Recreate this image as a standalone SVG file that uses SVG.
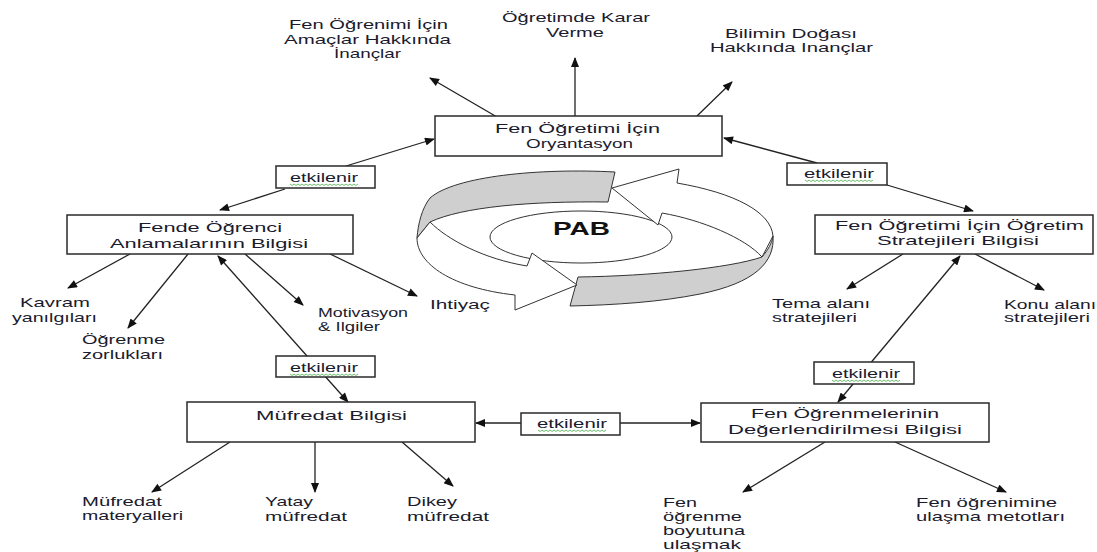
<svg xmlns="http://www.w3.org/2000/svg" width="1097" height="552" viewBox="0 0 1097 552">
<defs>
<style>
.t{font-family:"Liberation Sans",Arial,sans-serif;font-size:13px;fill:#1b1b2e}
.pab{font-family:"Liberation Sans",Arial,sans-serif;font-size:18px;font-weight:bold;fill:#111}
.b{fill:#fff;stroke:#2a2a2a;stroke-width:1.5}
.c{stroke:#222;stroke-width:1.3;fill:none;marker-end:url(#ah)}
.c2{marker-start:url(#ah)}
.sq{fill:none;stroke:#5cb85c;stroke-width:0.9}
.ring{stroke:#333;stroke-width:1}
.w{fill:#fff}
.g{fill:#cfcfcf}
</style>
<marker id="ah" viewBox="0 0 10 8" refX="9" refY="4" markerWidth="11" markerHeight="8" markerUnits="userSpaceOnUse" orient="auto-start-reverse">
<path d="M0,0 L10,4 L0,8 z" fill="#111"/>
</marker>
<path id="sq" d="M0,0l2,1.5l2,-1.5l2,1.5l2,-1.5l2,1.5l2,-1.5l2,1.5l2,-1.5l2,1.5l2,-1.5l2,1.5l2,-1.5l2,1.5l2,-1.5l2,1.5l2,-1.5l2,1.5l2,-1.5l2,1.5l2,-1.5l2,1.5l2,-1.5l2,1.5l2,-1.5l2,1.5l2,-1.5l2,1.5l2,-1.5l2,1.5l2,-1.5l2,1.5l2,-1.5l2,1.5l2,-1.5"/>
</defs>
<rect width="1097" height="552" fill="#fff"/>

<g id="connectors">
<line x1="497" y1="117" x2="430" y2="78" class="c"/>
<line x1="575" y1="116" x2="575" y2="58" class="c"/>
<line x1="697" y1="116" x2="732" y2="82" class="c"/>
<line x1="346" y1="166" x2="434" y2="139" class="c"/>
<line x1="285" y1="189" x2="220" y2="210" class="c"/>
<line x1="817" y1="163" x2="724" y2="138" class="c"/>
<line x1="887" y1="185" x2="973" y2="211" class="c"/>
<line x1="130" y1="254" x2="68" y2="288" class="c"/>
<line x1="188" y1="254" x2="128" y2="328" class="c"/>
<line x1="245" y1="254" x2="303" y2="305" class="c"/>
<line x1="330" y1="254" x2="417" y2="296" class="c"/>
<line x1="218" y1="256" x2="348" y2="402" class="c c2"/>
<line x1="230" y1="442" x2="152" y2="492" class="c"/>
<line x1="315" y1="442" x2="315" y2="492" class="c"/>
<line x1="402" y1="442" x2="453" y2="486" class="c"/>
<line x1="476" y1="423" x2="700" y2="423" class="c c2"/>
<line x1="960" y1="256" x2="838" y2="402" class="c c2"/>
<line x1="903" y1="254" x2="847" y2="289" class="c"/>
<line x1="975" y1="254" x2="1044" y2="290" class="c"/>
<line x1="825" y1="442" x2="743" y2="492" class="c"/>
<line x1="895" y1="442" x2="1006" y2="492" class="c"/>
</g>

<g id="pab-cycle">
<ellipse cx="581" cy="237" rx="91" ry="26" class="w ring"/>
<path class="g ring" d="M615,172 C540,168 455,176 430,198 C422,208 418,224 417,238 L430,222 C462,207 530,201 608,202 Z"/>
<path class="w ring" d="M773,236 C771,212 735,193 677,183 L679,169 L612,188 L658,225 L662,213 C702,220 745,238 762,257 Z"/>
<path class="g ring" d="M578,277 C650,276 730,268 762,257 C768,250 772,243 773,236 C775,262 755,283 700,294 C660,302 615,305 570,306 Z"/>
<path class="w ring" d="M417,238 C417,264 452,288 515,295 L515,310 L577,285 L532,253 L527,266 C484,259 448,240 430,222 Z"/>
<text class="pab" x="553" y="235" textLength="57" lengthAdjust="spacingAndGlyphs">PAB</text>
</g>

<g id="n-orient">
<rect class="b" x="435" y="116" width="287" height="40"/>
<text class="t" x="495" y="133" textLength="165" lengthAdjust="spacingAndGlyphs">Fen Öğretimi İçin</text>
<text class="t" x="526" y="148" textLength="107" lengthAdjust="spacingAndGlyphs">Oryantasyon</text>
</g>
<g id="l-amac">
<text class="t" x="289" y="29" textLength="159" lengthAdjust="spacingAndGlyphs">Fen Öğrenimi İçin</text>
<text class="t" x="284" y="44" textLength="167" lengthAdjust="spacingAndGlyphs">Amaçlar Hakkında</text>
<text class="t" x="334" y="58" textLength="67" lengthAdjust="spacingAndGlyphs">İnançlar</text>
</g>
<g id="l-karar">
<text class="t" x="502" y="22" textLength="148" lengthAdjust="spacingAndGlyphs">Öğretimde Karar</text>
<text class="t" x="546" y="37" textLength="58" lengthAdjust="spacingAndGlyphs">Verme</text>
</g>
<g id="l-doga">
<text class="t" x="725" y="38" textLength="132" lengthAdjust="spacingAndGlyphs">Bilimin Doğası</text>
<text class="t" x="710" y="52" textLength="163" lengthAdjust="spacingAndGlyphs">Hakkında Inançlar</text>
</g>

<g id="e-1">
<rect class="b" x="276" y="166" width="99" height="22"/>
<text class="t" x="290" y="182" textLength="68" lengthAdjust="spacingAndGlyphs">etkilenir</text>
<use href="#sq" x="290" y="184" class="sq"/>
</g>
<g id="e-2">
<rect class="b" x="787" y="163" width="100" height="22"/>
<text class="t" x="804" y="178" textLength="70" lengthAdjust="spacingAndGlyphs">etkilenir</text>
<use href="#sq" x="805" y="180" class="sq"/>
</g>
<g id="e-3">
<rect class="b" x="276" y="356" width="99" height="21"/>
<text class="t" x="290" y="372" textLength="68" lengthAdjust="spacingAndGlyphs">etkilenir</text>
<use href="#sq" x="290" y="374" class="sq"/>
</g>
<g id="e-4">
<rect class="b" x="521" y="413" width="99" height="22"/>
<text class="t" x="537" y="428" textLength="70" lengthAdjust="spacingAndGlyphs">etkilenir</text>
<use href="#sq" x="538" y="430" class="sq"/>
</g>
<g id="e-5">
<rect class="b" x="814" y="362" width="100" height="22"/>
<text class="t" x="832" y="378" textLength="68" lengthAdjust="spacingAndGlyphs">etkilenir</text>
<use href="#sq" x="832" y="380" class="sq"/>
</g>

<g id="n-fende">
<rect class="b" x="67" y="215" width="286" height="39"/>
<text class="t" x="138" y="232" textLength="144" lengthAdjust="spacingAndGlyphs">Fende Öğrenci</text>
<text class="t" x="110" y="248" textLength="198" lengthAdjust="spacingAndGlyphs">Anlamalarının  Bilgisi</text>
</g>
<g id="l-kavram">
<text class="t" x="20" y="307" textLength="70" lengthAdjust="spacingAndGlyphs">Kavram</text>
<text class="t" x="12" y="322" textLength="85" lengthAdjust="spacingAndGlyphs">yanılgıları</text>
</g>
<g id="l-zorluk">
<text class="t" x="82" y="344" textLength="83" lengthAdjust="spacingAndGlyphs">Öğrenme</text>
<text class="t" x="82" y="359" textLength="81" lengthAdjust="spacingAndGlyphs">zorlukları</text>
</g>
<g id="l-motiv">
<text class="t" x="318" y="317" textLength="90" lengthAdjust="spacingAndGlyphs">Motivasyon</text>
<text class="t" x="318" y="331" textLength="62" lengthAdjust="spacingAndGlyphs">&amp; Ilgiler</text>
</g>
<g id="l-ihtiyac">
<text class="t" x="430" y="309" textLength="60" lengthAdjust="spacingAndGlyphs">Ihtiyaç</text>
</g>

<g id="n-strat">
<rect class="b" x="815" y="215" width="278" height="39"/>
<text class="t" x="835" y="230" textLength="249" lengthAdjust="spacingAndGlyphs">Fen Öğretimi İçin Öğretim</text>
<text class="t" x="877" y="245" textLength="162" lengthAdjust="spacingAndGlyphs">Stratejileri Bilgisi</text>
</g>
<g id="l-tema">
<text class="t" x="772" y="308" textLength="98" lengthAdjust="spacingAndGlyphs">Tema alanı</text>
<text class="t" x="772" y="322" textLength="85" lengthAdjust="spacingAndGlyphs">stratejileri</text>
</g>
<g id="l-konu">
<text class="t" x="1004" y="309" textLength="92" lengthAdjust="spacingAndGlyphs">Konu alanı</text>
<text class="t" x="1004" y="322" textLength="86" lengthAdjust="spacingAndGlyphs">stratejileri</text>
</g>

<g id="n-mufredat">
<rect class="b" x="187" y="402" width="288" height="40"/>
<text class="t" x="256" y="420" textLength="151" lengthAdjust="spacingAndGlyphs">Müfredat Bilgisi</text>
</g>
<g id="l-materyal">
<text class="t" x="82" y="506" textLength="80" lengthAdjust="spacingAndGlyphs">Müfredat</text>
<text class="t" x="82" y="520" textLength="101" lengthAdjust="spacingAndGlyphs">materyalleri</text>
</g>
<g id="l-yatay">
<text class="t" x="265" y="506" textLength="48" lengthAdjust="spacingAndGlyphs">Yatay</text>
<text class="t" x="265" y="521" textLength="82" lengthAdjust="spacingAndGlyphs">müfredat</text>
</g>
<g id="l-dikey">
<text class="t" x="407" y="506" textLength="50" lengthAdjust="spacingAndGlyphs">Dikey</text>
<text class="t" x="407" y="521" textLength="82" lengthAdjust="spacingAndGlyphs">müfredat</text>
</g>

<g id="n-deger">
<rect class="b" x="701" y="403" width="288" height="39"/>
<text class="t" x="751" y="418" textLength="188" lengthAdjust="spacingAndGlyphs">Fen Öğrenmelerinin</text>
<text class="t" x="728" y="434" textLength="234" lengthAdjust="spacingAndGlyphs">Değerlendirilmesi Bilgisi</text>
</g>
<g id="l-boyut">
<text class="t" x="663" y="507" textLength="34" lengthAdjust="spacingAndGlyphs">Fen</text>
<text class="t" x="663" y="521" textLength="79" lengthAdjust="spacingAndGlyphs">öğrenme</text>
<text class="t" x="663" y="535" textLength="82" lengthAdjust="spacingAndGlyphs">boyutuna</text>
<text class="t" x="663" y="549" textLength="78" lengthAdjust="spacingAndGlyphs">ulaşmak</text>
</g>
<g id="l-metot">
<text class="t" x="916" y="507" textLength="141" lengthAdjust="spacingAndGlyphs">Fen öğrenimine</text>
<text class="t" x="916" y="521" textLength="149" lengthAdjust="spacingAndGlyphs">ulaşma metotları</text>
</g>
</svg>
